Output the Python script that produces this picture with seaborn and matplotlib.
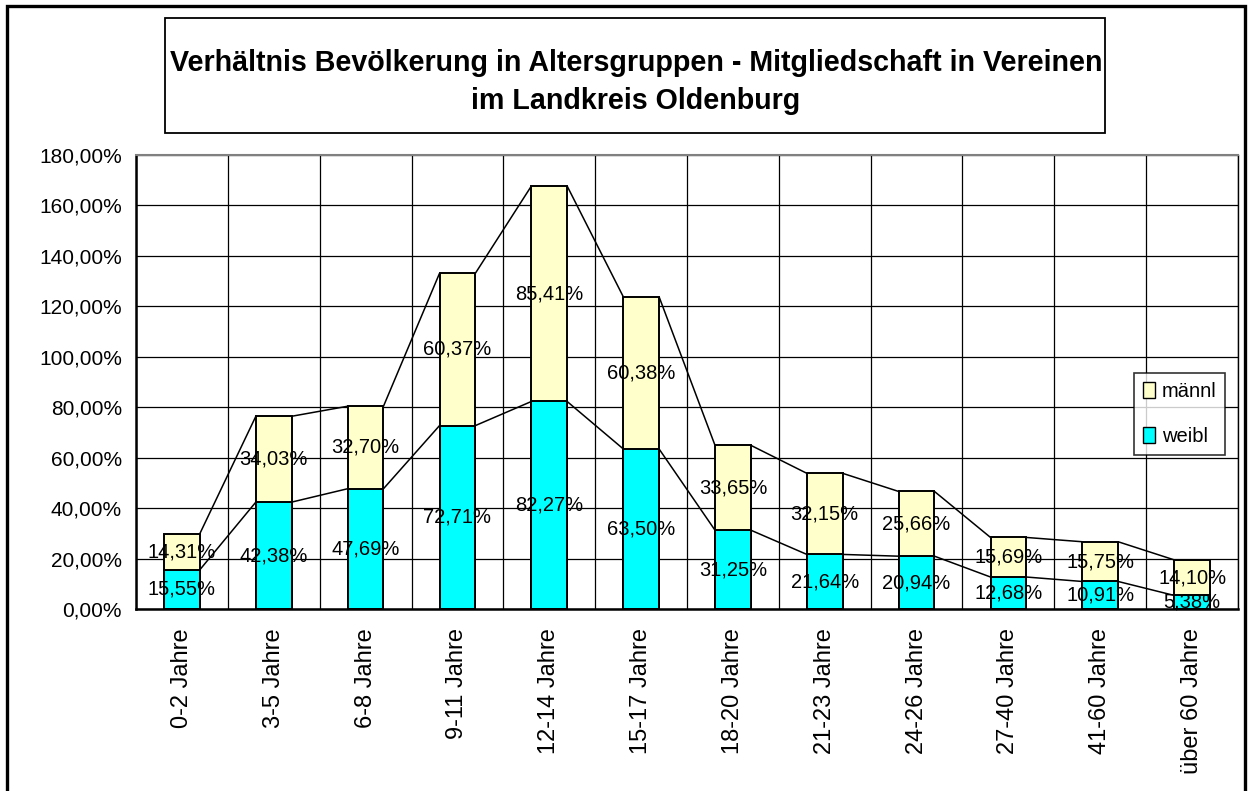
import matplotlib
matplotlib.use("Agg")
import matplotlib.pyplot as plt
from matplotlib import font_manager
from matplotlib.patches import Rectangle, Patch
from matplotlib.ticker import FuncFormatter, MultipleLocator, FixedLocator
import seaborn as sns
import pandas as pd

categories = ["0-2 Jahre", "3-5 Jahre", "6-8 Jahre", "9-11 Jahre", "12-14 Jahre", "15-17 Jahre",
              "18-20 Jahre", "21-23 Jahre", "24-26 Jahre", "27-40 Jahre", "41-60 Jahre", "über 60 Jahre"]
weibl = [15.55, 42.38, 47.69, 72.71, 82.27, 63.50, 31.25, 21.64, 20.94, 12.68, 10.91, 5.38]
maennl = [14.31, 34.03, 32.70, 60.37, 85.41, 60.38, 33.65, 32.15, 25.66, 15.69, 15.75, 14.10]
title_lines = ["Verhältnis Bevölkerung in Altersgruppen - Mitgliedschaft in Vereinen",
               "im Landkreis Oldenburg"]
series_names = ["männl", "weibl"]

sns.set_theme(style="white")
available = {f.name for f in font_manager.fontManager.ttflist}
base_font = "Liberation Sans" if "Liberation Sans" in available else "DejaVu Sans"
plt.rcParams["font.family"] = [base_font, "DejaVu Sans"]
plt.rcParams["text.color"] = "black"
plt.rcParams["axes.labelcolor"] = "black"
plt.rcParams["xtick.color"] = "black"
plt.rcParams["ytick.color"] = "black"

df = pd.DataFrame({"cat": categories, "weibl": weibl, "maennl": maennl})
df["total"] = df["weibl"] + df["maennl"]

W, H = 1248, 791
fig = plt.figure(figsize=(W / 100, H / 100), dpi=100)
ax = fig.add_axes([136 / W, 1 - 609 / H, (1238 - 136) / W, (609 - 155) / H])

col_m = "#FFFFCC"
col_w = "#00FFFF"
bw = 0.39
sns.barplot(data=df, x="cat", y="total", color=col_m, width=bw, edgecolor="black",
            linewidth=1.4, saturation=1, ax=ax, zorder=3)
sns.barplot(data=df, x="cat", y="weibl", color=col_w, width=bw, edgecolor="black",
            linewidth=1.4, saturation=1, ax=ax, zorder=4)

n = len(categories)
ax.set_xlim(-0.5, n - 0.5)
ax.set_ylim(0, 180)

# series lines
tot = df["total"].tolist()
for vals in (tot, weibl):
    for i in range(n - 1):
        ax.plot([i + bw / 2, i + 1 - bw / 2], [vals[i], vals[i + 1]], color="black",
                lw=1.1, zorder=5, solid_capstyle="butt")

# data labels
fmt = lambda v: f"{v:.2f}".replace(".", ",") + "%"
for i in range(n):
    ax.text(i, weibl[i] / 2, fmt(weibl[i]), ha="center", va="center", fontsize=14.5,
            color="black", zorder=6)
    ax.text(i, weibl[i] + maennl[i] / 2, fmt(maennl[i]), ha="center", va="center",
            fontsize=14.5, color="black", zorder=6)

# axes styling
ax.yaxis.set_major_locator(MultipleLocator(20))
ax.yaxis.set_major_formatter(FuncFormatter(lambda v, p: f"{v:.2f}".replace(".", ",") + "%"))
ax.set_xticks(range(n))
ax.set_xticklabels(categories, rotation=90, fontsize=17)
ax.xaxis.set_minor_locator(FixedLocator([i - 0.5 for i in range(n + 1)]))
ax.tick_params(axis="x", which="major", length=0, pad=14, colors="black")
ax.tick_params(axis="x", which="minor", length=7, width=1.5, color="black", direction="out")
ax.tick_params(axis="y", which="major", length=7, width=1.5, color="black", direction="out",
               labelsize=15, pad=3, labelcolor="black")
ax.grid(False)
ax.grid(True, axis="y", which="major", color="black", lw=0.9, zorder=1)
ax.grid(True, axis="x", which="minor", color="black", lw=0.9, zorder=1)
ax.set_xlabel("")
ax.set_ylabel("")
for s in ("left", "bottom"):
    ax.spines[s].set_color("black")
    ax.spines[s].set_linewidth(1.8)
ax.spines["top"].set_color("#808080")
ax.spines["top"].set_linewidth(1.5)
ax.spines["right"].set_color("black")
ax.spines["right"].set_linewidth(1.0)
for s in ax.spines.values():
    s.set_zorder(7)

# legend
handles = [Patch(facecolor=col_m, edgecolor="black", lw=1.0),
           Patch(facecolor=col_w, edgecolor="black", lw=1.0)]
leg = ax.legend(handles, series_names, loc="upper left", bbox_to_anchor=(0.906, 0.52),
                borderaxespad=0, fontsize=14.5, frameon=True, fancybox=False,
                edgecolor="black", handlelength=0.55, handleheight=0.8, handletextpad=0.35,
                labelspacing=1.3, borderpad=0.45)
leg.get_frame().set_linewidth(1.2)
leg.get_frame().set_edgecolor("black")
leg.set_zorder(10)
for t in leg.get_texts():
    t.set_color("black")

# title box
fig.patches.append(Rectangle((165 / W, 1 - 133 / H), (1105 - 165) / W, (133 - 18) / H,
                             transform=fig.transFigure, facecolor="white", edgecolor="black",
                             lw=1.3, zorder=1))
fig.text(636 / W, 1 - 63 / H, title_lines[0], ha="center", va="center", fontsize=20.6,
         fontweight="bold", color="black", zorder=3)
fig.text(636 / W, 1 - 101 / H, title_lines[1], ha="center", va="center", fontsize=20.6,
         fontweight="bold", color="black", zorder=3)

# outer border
fig.patches.append(Rectangle((7 / W, -0.02), (1245 - 7) / W, 1.02 - 6 / H,
                             transform=fig.transFigure, facecolor="none", edgecolor="black",
                             lw=2.4, zorder=0))

fig.savefig("out.png", dpi=100)
